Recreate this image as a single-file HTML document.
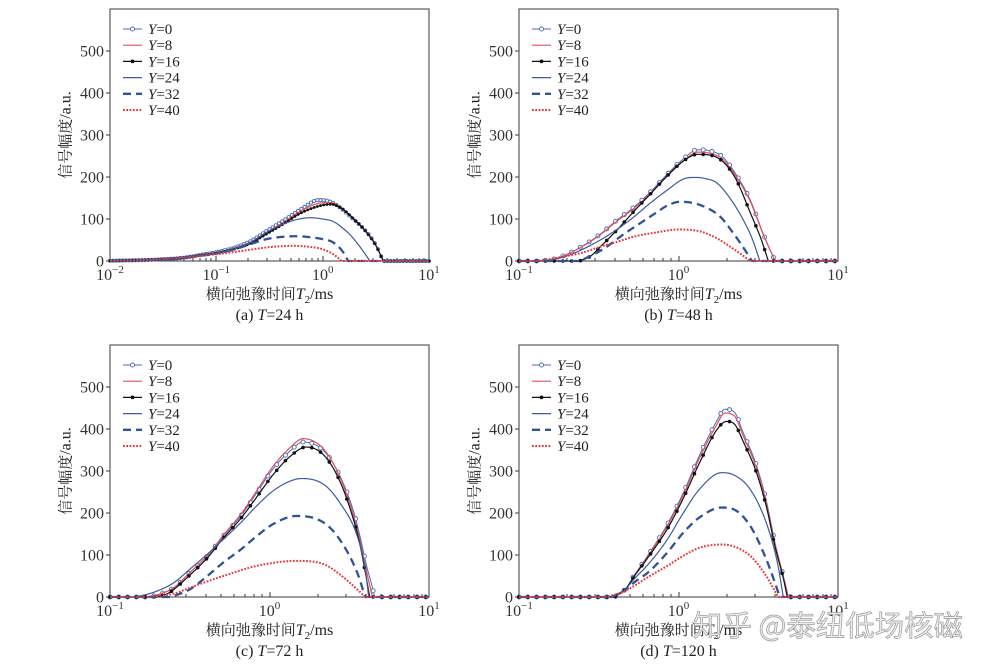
<!DOCTYPE html>
<html><head><meta charset="utf-8"><style>
html,body{margin:0;padding:0;background:#fff;}
svg{display:block;}
</style></head><body>
<svg id="s" width="990" height="666" viewBox="0 0 990 666" xmlns="http://www.w3.org/2000/svg" font-family="'Liberation Serif','Noto Serif CJK SC',serif" fill="#222">
<rect x="0" y="0" width="990" height="666" fill="#fff"/>
<g id="plots"></g>
<g font-size="16" text-anchor="end" fill="#333">
<text x="104" y="266.5">0</text><text x="104" y="224.5">100</text><text x="104" y="182.5">200</text><text x="104" y="140.5">300</text><text x="104" y="98.5">400</text><text x="104" y="56.5">500</text>
<text x="513" y="266.5">0</text><text x="513" y="224.5">100</text><text x="513" y="182.5">200</text><text x="513" y="140.5">300</text><text x="513" y="98.5">400</text><text x="513" y="56.5">500</text>
<text x="104" y="602.5">0</text><text x="104" y="560.5">100</text><text x="104" y="518.5">200</text><text x="104" y="476.5">300</text><text x="104" y="434.5">400</text><text x="104" y="392.5">500</text>
<text x="513" y="602.5">0</text><text x="513" y="560.5">100</text><text x="513" y="518.5">200</text><text x="513" y="476.5">300</text><text x="513" y="434.5">400</text><text x="513" y="392.5">500</text>
</g>
<g font-size="16" text-anchor="middle" fill="#333">
<text x="110" y="280">10<tspan dy="-7" font-size="11">−2</tspan></text>
<text x="216.3" y="280">10<tspan dy="-7" font-size="11">−1</tspan></text>
<text x="322.7" y="280">10<tspan dy="-7" font-size="11">0</tspan></text>
<text x="429" y="280">10<tspan dy="-7" font-size="11">1</tspan></text>
<text x="519" y="280">10<tspan dy="-7" font-size="11">−1</tspan></text>
<text x="678.5" y="280">10<tspan dy="-7" font-size="11">0</tspan></text>
<text x="838" y="280">10<tspan dy="-7" font-size="11">1</tspan></text>
<text x="110" y="616">10<tspan dy="-7" font-size="11">−1</tspan></text>
<text x="269.5" y="616">10<tspan dy="-7" font-size="11">0</tspan></text>
<text x="429" y="616">10<tspan dy="-7" font-size="11">1</tspan></text>
<text x="519" y="616">10<tspan dy="-7" font-size="11">−1</tspan></text>
<text x="678.5" y="616">10<tspan dy="-7" font-size="11">0</tspan></text>
<text x="838" y="616">10<tspan dy="-7" font-size="11">1</tspan></text>
</g>
<g font-size="15" text-anchor="middle" fill="#222">
<text x="269.5" y="299">横向弛豫时间<tspan font-size="16" font-style="italic">T</tspan><tspan font-size="11" dy="4">2</tspan><tspan font-size="16" dy="-4">/ms</tspan></text>
<text x="678.5" y="299">横向弛豫时间<tspan font-size="16" font-style="italic">T</tspan><tspan font-size="11" dy="4">2</tspan><tspan font-size="16" dy="-4">/ms</tspan></text>
<text x="269.5" y="635">横向弛豫时间<tspan font-size="16" font-style="italic">T</tspan><tspan font-size="11" dy="4">2</tspan><tspan font-size="16" dy="-4">/ms</tspan></text>
<text x="678.5" y="635">横向弛豫时间<tspan font-size="16" font-style="italic">T</tspan><tspan font-size="11" dy="4">2</tspan><tspan font-size="16" dy="-4">/ms</tspan></text>
<text x="269.5" y="320" font-size="16">(a) <tspan font-style="italic">T</tspan>=24 h</text>
<text x="678.5" y="320" font-size="16">(b) <tspan font-style="italic">T</tspan>=48 h</text>
<text x="269.5" y="656" font-size="16">(c) <tspan font-style="italic">T</tspan>=72 h</text>
<text x="678.5" y="656" font-size="16">(d) <tspan font-style="italic">T</tspan>=120 h</text>
<text transform="translate(70.5,135) rotate(-90)">信号幅度<tspan font-size="16">/a.u.</tspan></text>
<text transform="translate(479.5,135) rotate(-90)">信号幅度<tspan font-size="16">/a.u.</tspan></text>
<text transform="translate(70.5,471) rotate(-90)">信号幅度<tspan font-size="16">/a.u.</tspan></text>
<text transform="translate(479.5,471) rotate(-90)">信号幅度<tspan font-size="16">/a.u.</tspan></text>
</g>
<g font-size="15" fill="#222">
<text x="148" y="34"><tspan font-style="italic">Y</tspan>=0</text>
<text x="148" y="50.2"><tspan font-style="italic">Y</tspan>=8</text>
<text x="148" y="66.4"><tspan font-style="italic">Y</tspan>=16</text>
<text x="148" y="82.6"><tspan font-style="italic">Y</tspan>=24</text>
<text x="148" y="98.8"><tspan font-style="italic">Y</tspan>=32</text>
<text x="148" y="115"><tspan font-style="italic">Y</tspan>=40</text>
<text x="557" y="34"><tspan font-style="italic">Y</tspan>=0</text>
<text x="557" y="50.2"><tspan font-style="italic">Y</tspan>=8</text>
<text x="557" y="66.4"><tspan font-style="italic">Y</tspan>=16</text>
<text x="557" y="82.6"><tspan font-style="italic">Y</tspan>=24</text>
<text x="557" y="98.8"><tspan font-style="italic">Y</tspan>=32</text>
<text x="557" y="115"><tspan font-style="italic">Y</tspan>=40</text>
<text x="148" y="370"><tspan font-style="italic">Y</tspan>=0</text>
<text x="148" y="386.2"><tspan font-style="italic">Y</tspan>=8</text>
<text x="148" y="402.4"><tspan font-style="italic">Y</tspan>=16</text>
<text x="148" y="418.6"><tspan font-style="italic">Y</tspan>=24</text>
<text x="148" y="434.8"><tspan font-style="italic">Y</tspan>=32</text>
<text x="148" y="451"><tspan font-style="italic">Y</tspan>=40</text>
<text x="557" y="370"><tspan font-style="italic">Y</tspan>=0</text>
<text x="557" y="386.2"><tspan font-style="italic">Y</tspan>=8</text>
<text x="557" y="402.4"><tspan font-style="italic">Y</tspan>=16</text>
<text x="557" y="418.6"><tspan font-style="italic">Y</tspan>=24</text>
<text x="557" y="434.8"><tspan font-style="italic">Y</tspan>=32</text>
<text x="557" y="451"><tspan font-style="italic">Y</tspan>=40</text>
</g>
<text x="693" y="636" font-size="29" font-family="'Noto Sans CJK SC','WenQuanYi Zen Hei',sans-serif" fill="rgba(236,236,236,0.88)" stroke="#9c9c9c" stroke-width="0.7" textLength="270" lengthAdjust="spacingAndGlyphs">知乎 @泰纽低场核磁</text>
</svg>
<script>
(function(){
var NS="http://www.w3.org/2000/svg";
var G=document.getElementById("plots");
function el(t,a,p){var e=document.createElementNS(NS,t);for(var k in a)e.setAttribute(k,a[k]);(p||G).appendChild(e);return e;}
function mono(pts){
 var n=pts.length,xs=[],ys=[],d=[],m=[],i;
 for(i=0;i<n;i++){xs.push(pts[i][0]);ys.push(pts[i][1]);}
 for(i=0;i<n-1;i++)d.push((ys[i+1]-ys[i])/(xs[i+1]-xs[i]));
 m[0]=d[0];m[n-1]=d[n-2];
 for(i=1;i<n-1;i++)m[i]=(d[i-1]*d[i]<=0)?0:(d[i-1]+d[i])/2;
 for(i=0;i<n-1;i++){
  if(d[i]===0){m[i]=0;m[i+1]=0;continue;}
  var a=m[i]/d[i],b=m[i+1]/d[i],s=a*a+b*b;
  if(s>9){var t=3/Math.sqrt(s);m[i]=t*a*d[i];m[i+1]=t*b*d[i];}
 }
 var f=function(x){
  if(x<xs[0]||x>xs[n-1])return 0;
  var k=0;while(k<n-2&&x>xs[k+1])k++;
  var h=xs[k+1]-xs[k],t=(x-xs[k])/h,t2=t*t,t3=t2*t;
  var v=(2*t3-3*t2+1)*ys[k]+(t3-2*t2+t)*h*m[k]+(-2*t3+3*t2)*ys[k+1]+(t3-t2)*h*m[k+1];
  return v<0?0:v;
 };
 f.a=xs[0];f.b=xs[n-1];return f;
}
function sc(p,k){return p.map(function(q){return [q[0],q[1]*k];});}
var A=[
 [[-2,0.5],[-1.6,3],[-1.3,8],[-1.16,14],[-1,21],[-0.84,31],[-0.68,47],[-0.53,71],[-0.37,96],[-0.2,124],[-0.04,145],[0.05,143],[0.16,128],[0.26,106],[0.41,70],[0.5,38],[0.57,0]],
 [[-2,0.5],[-1.6,3],[-1.3,8],[-1.16,13],[-1,20],[-0.84,30],[-0.68,45],[-0.53,68],[-0.37,92],[-0.2,120],[-0.02,138],[0.07,139],[0.17,128],[0.27,106],[0.41,70],[0.5,38],[0.57,0]],
 [[-2,0.5],[-1.6,3],[-1.3,8],[-1.16,13],[-1,19],[-0.84,28],[-0.68,42],[-0.53,64],[-0.37,88],[-0.2,115],[0,133],[0.08,135],[0.18,125],[0.28,103],[0.41,69],[0.5,37],[0.57,0]],
 [[-2,0.5],[-1.6,3],[-1.3,8],[-1.16,13],[-1,19],[-0.84,28],[-0.68,44],[-0.53,68],[-0.37,88],[-0.22,100],[-0.12,103],[0,100],[0.1,94],[0.2,76],[0.26,62],[0.35,34],[0.445,0]],
 [[-2,0.5],[-1.6,3],[-1.3,8],[-1.16,12],[-1,18],[-0.84,27],[-0.68,40],[-0.53,52],[-0.4,57],[-0.24,59],[-0.1,56],[0,52],[0.1,44],[0.19,22],[0.24,0]],
 [[-2,0.5],[-1.6,3],[-1.3,8],[-1.16,12],[-1,16],[-0.84,21],[-0.68,27],[-0.5,33],[-0.28,36],[-0.1,33],[0,28],[0.1,16],[0.18,0]]
];
var b0=[[-0.87,0],[-0.78,5],[-0.7,16],[-0.6,36],[-0.49,64],[-0.39,96],[-0.28,128],[-0.18,163],[-0.07,207],[0.03,243],[0.12,265],[0.2,262],[0.27,250],[0.34,218],[0.45,145],[0.53,66],[0.605,0]];
var B=[
 b0, sc(b0,0.978),
 [[-0.62,0],[-0.55,12],[-0.49,34],[-0.39,72],[-0.28,118],[-0.18,158],[-0.07,203],[0.03,238],[0.12,254],[0.2,252],[0.28,236],[0.36,195],[0.45,115],[0.52,50],[0.563,0]],
 [[-0.82,0],[-0.7,12],[-0.6,28],[-0.49,50],[-0.39,74],[-0.28,105],[-0.18,137],[-0.07,169],[0.03,195],[0.1,199],[0.17,196],[0.24,186],[0.34,140],[0.41,95],[0.46,55],[0.51,0]],
 [[-0.62,0],[-0.52,18],[-0.45,34],[-0.35,62],[-0.24,90],[-0.14,115],[-0.07,132],[0.01,141],[0.13,134],[0.26,106],[0.344,66],[0.417,26],[0.46,0]],
 [[-0.9,0],[-0.8,5],[-0.7,12],[-0.6,20],[-0.49,34],[-0.39,45],[-0.28,58],[-0.14,68],[0,75],[0.14,70],[0.24,54],[0.34,30],[0.4,14],[0.448,0]]
];
var C=[
 [[-0.75,0],[-0.68,8],[-0.6,22],[-0.5,58],[-0.39,98],[-0.29,145],[-0.18,193],[-0.08,248],[0.02,304],[0.13,348],[0.21,369],[0.34,348],[0.442,288],[0.526,205],[0.567,145],[0.609,74],[0.64,30],[0.66,0]],
 [[-0.75,0],[-0.68,8],[-0.6,22],[-0.5,58],[-0.39,98],[-0.29,147],[-0.18,197],[-0.08,253],[0.02,310],[0.13,356],[0.21,377],[0.34,352],[0.442,285],[0.526,195],[0.567,135],[0.609,60],[0.645,0]],
 [[-0.72,0],[-0.65,6],[-0.6,18],[-0.5,52],[-0.39,93],[-0.29,140],[-0.18,187],[-0.08,238],[0.02,290],[0.13,335],[0.23,357],[0.34,338],[0.442,275],[0.526,185],[0.567,125],[0.6,60],[0.628,0]],
 [[-0.84,0],[-0.72,12],[-0.6,34],[-0.5,66],[-0.39,102],[-0.29,137],[-0.18,177],[-0.08,217],[0.02,252],[0.13,276],[0.2,282],[0.34,268],[0.44,225],[0.55,145],[0.6,66],[0.622,0]],
 [[-0.62,0],[-0.5,18],[-0.39,50],[-0.29,82],[-0.18,113],[-0.08,145],[0.02,173],[0.17,193],[0.34,177],[0.44,137],[0.55,58],[0.6,0]],
 [[-0.78,0],[-0.6,8],[-0.5,22],[-0.29,50],[-0.08,74],[0.17,86],[0.34,78],[0.44,54],[0.55,18],[0.6,0]]
];
var d0=[[-0.4,0],[-0.33,20],[-0.28,50],[-0.18,106],[-0.07,173],[0.03,248],[0.13,336],[0.24,419],[0.29,447],[0.35,440],[0.406,391],[0.49,312],[0.553,225],[0.605,129],[0.657,50],[0.689,0]];
var D=[
 d0, sc(d0,0.98),
 [[-0.4,0],[-0.33,20],[-0.28,48],[-0.18,100],[-0.07,162],[0.03,235],[0.13,318],[0.24,398],[0.3,418],[0.35,412],[0.406,370],[0.49,295],[0.553,212],[0.605,120],[0.657,45],[0.682,0]],
 [[-0.42,0],[-0.33,20],[-0.28,42],[-0.18,82],[-0.07,137],[0.03,200],[0.13,256],[0.27,296],[0.35,290],[0.45,256],[0.55,177],[0.62,82],[0.657,0]],
 [[-0.42,0],[-0.33,18],[-0.28,34],[-0.18,62],[-0.07,106],[0.03,153],[0.13,189],[0.27,213],[0.35,208],[0.45,169],[0.55,90],[0.636,0]],
 [[-0.46,0],[-0.36,10],[-0.28,26],[-0.18,50],[-0.07,74],[0.03,98],[0.13,117],[0.27,125],[0.35,120],[0.45,98],[0.55,50],[0.625,0]]
];
var P=[
 {L:110,R:429,T:9,B:261,x0:-2,x1:1,step:0.03,r:1.6,d:A},
 {L:519,R:838,T:9,B:261,x0:-1,x1:1,step:0.055,r:2,d:B},
 {L:110,R:429,T:345,B:597,x0:-1,x1:1,step:0.055,r:2,d:C},
 {L:519,R:838,T:345,B:597,x0:-1,x1:1,step:0.055,r:2,d:D}
];
var S=[
 {c:"#4a6cb3",w:1,da:null,mk:"o"},
 {c:"#e0505c",w:1.2,da:null},
 {c:"#111111",w:1.2,da:null,mk:"d"},
 {c:"#3d5c9c",w:1.2,da:null},
 {c:"#2f5496",w:2.3,da:"8,5"},
 {c:"#e53a3a",w:2,da:"1.8,1.5"}
];
P.forEach(function(p){
 var ppd=(p.R-p.L)/(p.x1-p.x0);
 function X(l){return p.L+(l-p.x0)*ppd;}
 function Y(v){return p.B-v*(p.B-p.T)/600;}
 // frame
 el("rect",{x:p.L,y:p.T,width:p.R-p.L,height:p.B-p.T,fill:"none",stroke:"#3a3a3a","stroke-width":1,"shape-rendering":"crispEdges"});
 // y ticks
 for(var v=0;v<=500;v+=100){var yy=Math.round(Y(v));el("line",{x1:p.L-4,y1:yy,x2:p.L,y2:yy,stroke:"#3a3a3a","stroke-width":1,"shape-rendering":"crispEdges"});}
 // x ticks
 for(var dec=p.x0;dec<p.x1;dec++){
  for(var k=1;k<=9;k++){
   var xx=Math.round(X(dec+Math.log10(k)));
   el("line",{x1:xx,y1:p.B,x2:xx,y2:p.B-(k===1?5:3),stroke:"#3a3a3a","stroke-width":1,"shape-rendering":"crispEdges"});
  }
 }
 // curves
 p.d.forEach(function(pts,i){
  var f=mono(pts),s=S[i],lg=[],q;
  for(q=0;q<=p.R-p.L;q+=0.5)lg.push(p.x0+q/ppd);
  if(f.a>p.x0)lg.push(f.a);
  if(f.b<p.x1)lg.push(f.b);
  lg.sort(function(a,b){return a-b;});
  var dstr="";
  lg.forEach(function(l,j){dstr+=(j?"L":"M")+X(l).toFixed(2)+" "+Y(f(l)).toFixed(2);});
  var at={d:dstr,fill:"none",stroke:s.c,"stroke-width":s.w,"stroke-linejoin":"round"};
  if(s.da)at["stroke-dasharray"]=s.da;
  el("path",at);
  if(s.mk){
   for(var l=p.x0;l<=p.x1+1e-9;l+=p.step){
    var cx=X(l),cy=Y(f(l));
    if(s.mk==="o")el("circle",{cx:cx.toFixed(2),cy:cy.toFixed(2),r:p.r,fill:"#fff",stroke:s.c,"stroke-width":0.9});
    else el("circle",{cx:cx.toFixed(2),cy:cy.toFixed(2),r:p.r-0.2,fill:s.c});
   }
  }
 });
 // legend samples
 for(var i=0;i<6;i++){
  var ly=p.T+20+16.2*i,s=S[i];
  var at={x1:p.L+13,y1:ly,x2:p.L+32,y2:ly,stroke:s.c,"stroke-width":s.w};
  if(s.da)at["stroke-dasharray"]=s.da;
  el("line",at);
  if(s.mk==="o")el("circle",{cx:p.L+22.5,cy:ly,r:2,fill:"#fff",stroke:s.c,"stroke-width":0.9});
  if(s.mk==="d")el("circle",{cx:p.L+22.5,cy:ly,r:1.9,fill:s.c});
 }
});
})();
</script>
</body></html>
